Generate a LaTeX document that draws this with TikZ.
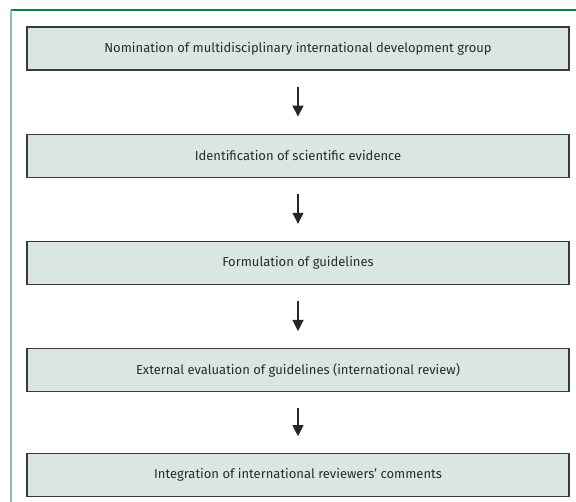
\documentclass[tikz,border=0pt]{standalone}
\usepackage{fontspec}
\setmainfont{Fira Sans}
\usetikzlibrary{positioning, arrows.meta}

\definecolor{boxfill}{HTML}{D9E7E0}
\definecolor{boxline}{HTML}{3A3A3A}
\definecolor{frametop}{HTML}{1A7A45}
\definecolor{frameleft}{HTML}{86C4A4}
\definecolor{txtgray}{HTML}{2A2A2A}

\tikzset{
    stagebox/.style={draw=boxline, line width=1.2pt, fill=boxfill,
        minimum width=542pt, minimum height=43pt, inner sep=0pt,
        text=txtgray, font=\fontsize{13}{15}\selectfont},
    flowarrow/.style={->, line width=1.1pt, draw=black!85,
        shorten <=16pt, shorten >=17pt}
}

\begin{document}
\begin{tikzpicture}[x=1pt, y=1pt, node distance=63pt,
    >={Triangle[width=11pt, length=11pt]}]
    % Page size
    \useasboundingbox (0,0) rectangle (576,-502);

    % Frame lines
    \draw[frametop, line width=1.5pt] (11,-10) -- (576,-10);
    \draw[frameleft, line width=2pt] (11,-10) -- (11,-502);

    % Stages
    \node[stagebox] (nomination) at (298,-48.5) {Nomination of multidisciplinary international development group};
    \node[stagebox, below=of nomination] (evidence) {Identification of scientific evidence};
    \node[stagebox, below=of evidence] (formulation) {Formulation of guidelines};
    \node[stagebox, below=of formulation] (evaluation) {External evaluation of guidelines (international review)};
    \node[stagebox, below=61pt of evaluation] (integration) {Integration of international reviewers’ comments};

    % Arrows
    \draw[flowarrow] (nomination) -- (evidence);
    \draw[flowarrow] (evidence) -- (formulation);
    \draw[flowarrow] (formulation) -- (evaluation);
    \draw[flowarrow] (evaluation) -- (integration);

\end{tikzpicture}
\end{document}
